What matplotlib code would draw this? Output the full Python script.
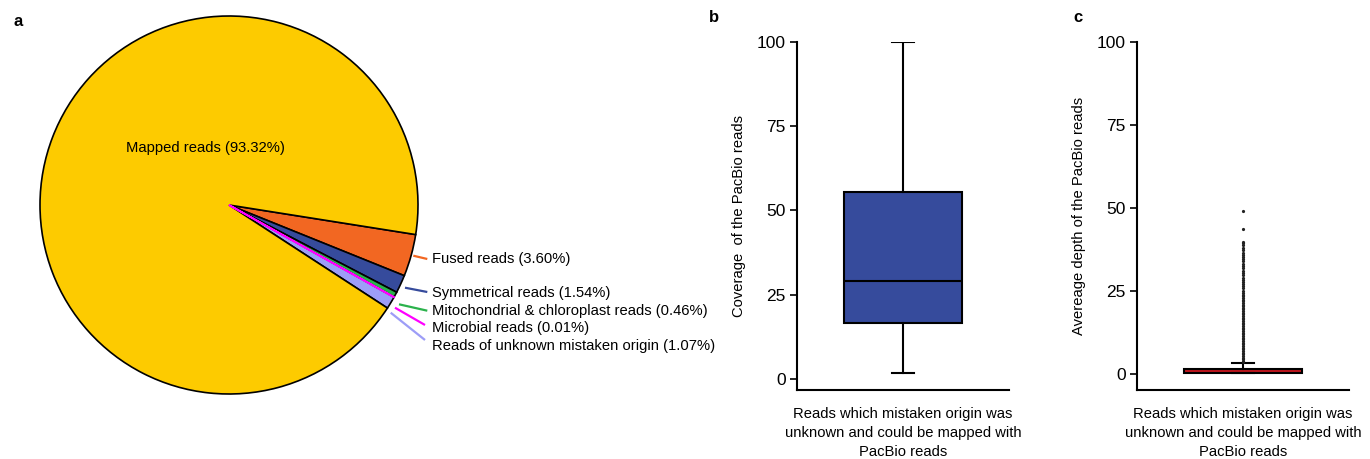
import matplotlib
matplotlib.use("Agg")
import matplotlib.pyplot as plt

plt.rcParams['font.family'] = ['Liberation Sans', 'DejaVu Sans']

# ---------------- data ----------------
pie_labels = ["Fused reads", "Symmetrical reads", "Mitochondrial & chloroplast reads",
              "Microbial reads", "Reads of unknown mistaken origin", "Mapped reads"]
pie_values = [3.60, 1.54, 0.46, 0.01, 1.07, 93.32]
pie_colors = ["#F26722", "#364B9C", "#2BB24C", "#FF00FF", "#9D9DF7", "#FDCB00"]

# panel b box statistics (coverage %)
cov_whislo, cov_q1, cov_med, cov_q3, cov_whishi = 1.8, 16.7, 29.1, 55.6, 100.0

# panel c box statistics (average depth) and outliers
dep_whislo, dep_q1, dep_med, dep_q3, dep_whishi = 0.2, 0.2, 0.8, 1.6, 3.4
dep_fliers = [49.0, 43.5, 39.8, 39.3, 38.8, 38.0, 37.3, 36.5, 35.8, 35.2, 34.6,
              33.9, 33.2, 32.4, 31.8, 31.0, 30.4, 29.7, 29.0, 28.4, 27.7, 27.0,
              26.4, 25.8, 25.1, 24.5, 23.9, 23.4, 22.9, 22.4, 21.9, 21.4, 20.9,
              20.4, 19.9, 19.4, 18.9, 18.4, 17.9, 17.4, 16.9, 16.4, 15.9, 15.4,
              14.9, 14.4, 13.9, 13.4, 12.9, 12.4, 11.9, 11.4, 10.9, 10.4, 9.9,
              9.4, 8.9, 8.4, 7.9, 7.4, 6.9, 6.4, 5.9, 5.4, 4.9, 4.4, 3.9, 3.6]

x_label = "Reads which mistaken origin was\nunknown and could be mapped with\nPacBio reads"
y_label_b = "Coverage  of the PacBio reads"
y_label_c = "Avereage depth of the PacBio reads"
y_ticks = [0, 25, 50, 75, 100]

# ---------------- figure ----------------
W, H = 1370, 459
fig = plt.figure(figsize=(W / 100, H / 100), dpi=100)

# pie axes: 1 data unit = R pixels, centre at (cx, cy) pixels (from top)
R, cx, cy = 189.0, 229.0, 205.0
axp = fig.add_axes([0, 0, 740 / W, 1])

def p2d(px, py):
    return ((px - cx) / R, (cy - py) / R)

wedges, _ = axp.pie(pie_values, colors=pie_colors, startangle=-9, counterclock=False,
                    radius=1.0, center=(0, 0), frame=True,
                    wedgeprops=dict(edgecolor='black', linewidth=1.2))
axp.set_xlim(-cx / R, (740 - cx) / R)
axp.set_ylim((cy - H) / R, cy / R)
axp.axis('off')
wedges[3].set_edgecolor('#FF00FF')
wedges[3].set_linewidth(1.3)
wedges[3].set_zorder(5)

fs = 10.6
# Mapped label inside
mx, my = p2d(205, 148)
axp.text(mx, my, f"{pie_labels[5]} ({pie_values[5]:.2f}%)", ha='center', va='center', fontsize=fs)

# leader lines and labels for the small slices (pixel anchors)
leaders = [((413.3, 255.7), (427.3, 259.0), 259),
           ((405.0, 287.7), (427.3, 292.0), 292.5),
           ((399.0, 304.3), (427.3, 310.7), 311.5),
           ((395.0, 307.7), (425.0, 325.0), 328),
           ((390.7, 312.7), (425.0, 340.0), 346)]
for i, (a, b, ty) in enumerate(leaders):
    x0, y0 = p2d(*a)
    x1, y1 = p2d(*b)
    axp.plot([x0, x1], [y0, y1], color=pie_colors[i], lw=1.6, solid_capstyle='butt')
    tx, tyd = p2d(432, ty)
    axp.text(tx, tyd, f"{pie_labels[i]} ({pie_values[i]:.2f}%)", ha='left', va='center', fontsize=fs)

# panel letters
fig.text(14 / W, 1 - 22 / H, "a", fontsize=12, fontweight='bold', ha='left', va='center')
fig.text(709 / W, 1 - 18 / H, "b", fontsize=12, fontweight='bold', ha='left', va='center')
fig.text(1073 / W, 1 - 18 / H, "c", fontsize=12, fontweight='bold', ha='left', va='center')


def style_box_axes(ax, ylo, ylabel):
    ax.set_xlim(0.5, 1.5)
    ax.set_ylim(ylo, 100)
    for s in ['top', 'right']:
        ax.spines[s].set_visible(False)
    for s in ['left', 'bottom']:
        ax.spines[s].set_linewidth(1.5)
    ax.spines['left'].set_bounds(ylo, 100)
    ax.set_xticks([])
    ax.set_yticks(y_ticks)
    ax.tick_params(axis='y', length=5, width=1.2, labelsize=12.5, pad=3)
    ax.set_ylabel(ylabel, fontsize=fs, labelpad=8)
    ax.set_xlabel(x_label, fontsize=fs, labelpad=12, linespacing=1.45)


bottom = (H - 390) / H
height = (390 - 41.7) / H

axb = fig.add_axes([797 / W, bottom, 212 / W, height])
stats_b = [dict(whislo=cov_whislo, q1=cov_q1, med=cov_med, q3=cov_q3, whishi=cov_whishi, fliers=[])]
axb.bxp(stats_b, positions=[1], widths=0.557, capwidths=0.104, patch_artist=True,
        boxprops=dict(facecolor='#364B9C', edgecolor='black', linewidth=1.5),
        medianprops=dict(color='black', linewidth=1.5),
        whiskerprops=dict(color='black', linewidth=1.5),
        capprops=dict(color='black', linewidth=1.5),
        showfliers=False)
style_box_axes(axb, -3.2, y_label_b)

axc = fig.add_axes([1137 / W, bottom, 212 / W, height])
stats_c = [dict(whislo=dep_whislo, q1=dep_q1, med=dep_med, q3=dep_q3, whishi=dep_whishi, fliers=dep_fliers)]
axc.bxp(stats_c, positions=[1], widths=0.557, capwidths=0.104, patch_artist=True,
        boxprops=dict(facecolor='#C0161E', edgecolor='black', linewidth=1.5),
        medianprops=dict(color='#C0161E', linewidth=0),
        whiskerprops=dict(color='black', linewidth=1.5),
        capprops=dict(color='black', linewidth=1.5),
        flierprops=dict(marker='o', markersize=2.3, markerfacecolor='#222222',
                        markeredgecolor='none', linestyle='none'),
        showfliers=True)
style_box_axes(axc, -4.83, y_label_c)

fig.savefig("out.png", dpi=100)
